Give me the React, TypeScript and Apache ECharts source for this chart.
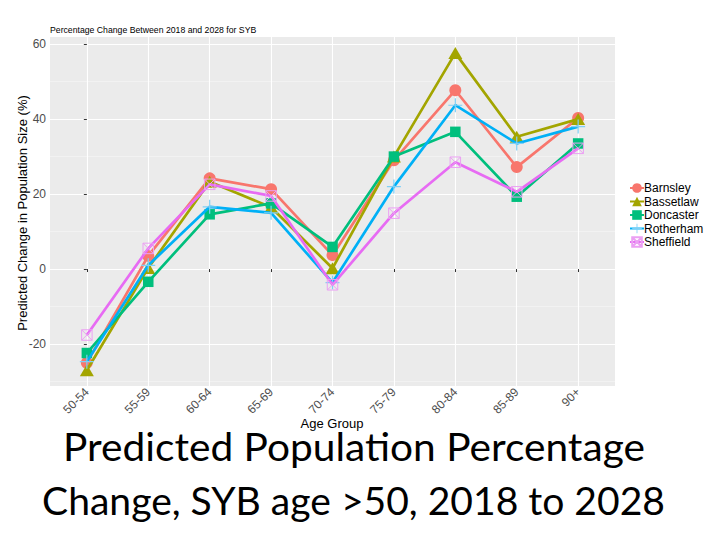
import React, { useEffect, useRef } from "react";
import * as echarts from "echarts";

const categories = ["50-54", "55-59", "60-64", "65-69", "70-74", "75-79", "80-84", "85-89", "90+"];
const barnsley = [-25, 3.5, 24.2, 21.3, 3.7, 29, 47.7, 27.2, 40.3];
const bassetlaw = [-27, 0.3, 23.3, 16.5, 0.2, 30, 57.6, 35.3, 40];
const doncaster = [-22.4, -3.4, 14.6, 17.5, 5.9, 30, 36.6, 19.3, 33.5];
const rotherham = [-24.7, 1, 16.6, 15, -3.6, 22, 43.7, 33.5, 38];
const sheffield = [-17.6, 5.5, 22.6, 19.5, -4.2, 14.9, 28.5, 20.6, 32.2];

const yMajor = [-20, 0, 20, 40, 60];
const yMinor = [-30, -10, 10, 30, 50];
const yMin = -31.2;
const yMax = 61.9;

const chartTitle = "Percentage Change Between 2018 and 2028 for SYB";
const yTitle = "Predicted Change in Population Size (%)";
const xTitle = "Age Group";
const bigLine1 = "Predicted Population Percentage";
const bigLine2 = "Change, SYB age >50, 2018 to 2028";

const FONT = "'Liberation Sans', Arial, Helvetica, sans-serif";
const BIG_FONT = "Lato";
const BIG_SIZE = 39;

const plusPath =
  "path://M-7,-0.6 L7,-0.6 L7,0.6 L-7,0.6 Z M-0.6,-7 L0.6,-7 L0.6,7 L-0.6,7 Z";
const boxXPath = "path://M0,0 L10,0 L10,10 L0,10 Z M0,0 L10,10 M10,0 L0,10";

function measure(text: string, font: string): number {
  const c = document.createElement("canvas");
  const ctx = c.getContext("2d");
  if (!ctx) return 1;
  ctx.font = font;
  return ctx.measureText(text).width;
}

export default function App() {
  const ref = useRef<HTMLDivElement>(null);
  useEffect(() => {
    if (!ref.current) return;
    const chart = echarts.init(ref.current, undefined, { renderer: "svg" });
    const toXY = (arr: number[]) => arr.map((v, i) => [i, v]);
    const w1 = measure(bigLine1, `${BIG_SIZE}px ${BIG_FONT}`);
    const w2 = measure(bigLine2, `${BIG_SIZE}px ${BIG_FONT}`);
    const sx1 = 582 / w1;
    const sx2 = 623 / w2;

    const mk = (name: string, data: number[], color: string, symbol: string, size: any, itemStyle: any, z: number) => ({
      name,
      type: "line",
      data: toXY(data),
      symbol,
      symbolSize: size,
      showSymbol: true,
      z,
      lineStyle: { color, width: 2.7 },
      itemStyle,
      emphasis: { disabled: true },
    });

    chart.setOption({
      animation: false,
      backgroundColor: "#ffffff",
      textStyle: { fontFamily: FONT },
      grid: {
        left: 50,
        right: 105,
        top: 37,
        bottom: 154,
        show: true,
        backgroundColor: "#EBEBEB",
        borderWidth: 0,
      },
      xAxis: {
        type: "value",
        min: -0.6,
        max: 8.6,
        axisLine: { show: false },
        axisTick: {
          show: true,
          length: 3,
          lineStyle: { color: "#333333", width: 1 },
          customValues: categories.map((_, i) => i),
        },
        axisLabel: {
          customValues: categories.map((_, i) => i),
          formatter: (v: number) => categories[Math.round(v)],
          rotate: 45,
          fontSize: 12,
          color: "#4D4D4D",
          margin: 4,
          fontFamily: FONT,
        },
        splitLine: { show: true, lineStyle: { color: "#ffffff", width: 1.1 } },
      },
      yAxis: [
        {
          type: "value",
          min: yMin,
          max: yMax,
          axisLine: { show: false },
          axisTick: {
            show: true,
            length: 3,
            lineStyle: { color: "#333333", width: 1 },
            customValues: yMajor,
          },
          axisLabel: {
            customValues: yMajor,
            fontSize: 12,
            color: "#4D4D4D",
            margin: 4,
            fontFamily: FONT,
          },
          splitLine: { show: true, lineStyle: { color: "#ffffff", width: 1.1 } },
        },
        {
          type: "value",
          min: yMin,
          max: yMax,
          position: "left",
          axisLine: { show: false },
          axisTick: { show: false, customValues: yMinor },
          axisLabel: { show: false, customValues: yMinor },
          splitLine: { show: true, lineStyle: { color: "#F7F7F7", width: 0.6 } },
        },
      ],
      legend: {
        orient: "vertical",
        left: 624,
        top: 177,
        itemWidth: 14,
        itemHeight: 12,
        itemGap: 1.5,
        textStyle: { fontSize: 12, color: "#000000", fontFamily: FONT, padding: [0, 0, 0, -5] },
        data: ["Barnsley", "Bassetlaw", "Doncaster", "Rotherham", "Sheffield"],
      },
      series: [
        mk("Barnsley", barnsley, "#F8766D", "circle", 12, { color: "#F8766D" }, 2),
        mk("Bassetlaw", bassetlaw, "#A3A500", "triangle", [14, 12], { color: "#A3A500" }, 3),
        mk("Doncaster", doncaster, "#00BF7D", "rect", 10.5, { color: "#00BF7D" }, 4),
        mk("Rotherham", rotherham, "#00B0F6", plusPath, 14, { color: "#7FCFF5" }, 5),
        mk("Sheffield", sheffield, "#E76BF3", boxXPath, 10.5, {
          color: "rgba(0,0,0,0)",
          borderColor: "#EBA0F3",
          borderWidth: 1,
        }, 6),
      ],
      graphic: [
        {
          type: "text",
          left: 50,
          top: 25,
          style: { text: chartTitle, fontSize: 8.7, fill: "#000000", fontFamily: FONT },
        },
        {
          type: "text",
          x: 22,
          y: 213,
          rotation: Math.PI / 2,
          style: {
            text: yTitle,
            fontSize: 13,
            fill: "#000000",
            fontFamily: FONT,
            align: "center",
            verticalAlign: "middle",
          },
        },
        {
          type: "text",
          x: 332,
          y: 423,
          z: 20,
          style: {
            text: xTitle,
            fontSize: 13,
            fill: "#000000",
            fontFamily: FONT,
            align: "center",
            verticalAlign: "middle",
          },
        },
        {
          type: "text",
          x: 354,
          y: 446,
          scaleX: sx1,
          z: 5,
          style: {
            text: bigLine1,
            fontSize: BIG_SIZE,
            fill: "#000000",
            fontFamily: BIG_FONT,
            align: "center",
            verticalAlign: "middle",
          },
        },
        {
          type: "text",
          x: 353.5,
          y: 500,
          scaleX: sx2,
          z: 5,
          style: {
            text: bigLine2,
            fontSize: BIG_SIZE,
            fill: "#000000",
            fontFamily: BIG_FONT,
            align: "center",
            verticalAlign: "middle",
          },
        },
        {
          type: "rect",
          z: 10,
          shape: { x: 0, y: 428.5, width: 720, height: 3 },
          style: { fill: "#ffffff" },
        },
      ],
    });
    return () => chart.dispose();
  }, []);
  return <div ref={ref} style={{ width: 720, height: 540, position: "absolute", left: 0, top: 0 }} />;
}
